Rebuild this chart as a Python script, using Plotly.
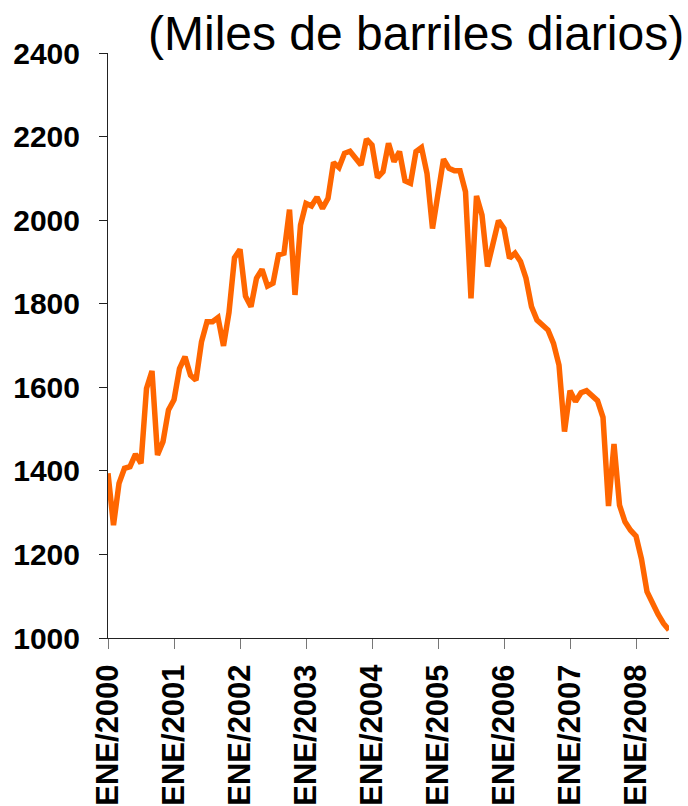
import plotly.graph_objects as go

# Monthly production (thousand barrels per day), Jan 2000 .. Jul 2008
years = list(range(2000, 2009))
month_labels = [f"{y}-{m:02d}" for y in range(2000, 2009) for m in range(1, 13)][:103]

values = [
    1394, 1270, 1370, 1406, 1410, 1440, 1418, 1597, 1639, 1438, 1470, 1546,   # 2000
    1570, 1645, 1673, 1629, 1617, 1709, 1757, 1757, 1767, 1699, 1779, 1910,   # 2001
    1930, 1818, 1793, 1861, 1882, 1842, 1849, 1917, 1921, 2025, 1821, 1988,   # 2002
    2040, 2034, 2055, 2028, 2052, 2138, 2126, 2160, 2165, 2150, 2132, 2194,   # 2003
    2180, 2102, 2116, 2184, 2140, 2164, 2094, 2088, 2164, 2174, 2112, 1980,   # 2004
    2065, 2146, 2124, 2118, 2118, 2068, 1813, 2058, 2012, 1889, 1944, 1999,   # 2005
    1980, 1909, 1921, 1901, 1861, 1793, 1761, 1749, 1737, 1705, 1653, 1494,   # 2006
    1592, 1566, 1587, 1592, 1578, 1568, 1528, 1316, 1464, 1318, 1278, 1258,   # 2007
    1244, 1189, 1111, 1080, 1057, 1035, 1019,                                  # 2008
]

tick_vals = [f"{y}-01" for y in years]
tick_text = [f"ENE/{y}" for y in years]
y_ticks = [1000, 1200, 1400, 1600, 1800, 2000, 2200, 2400]

title_text = "(Miles de barriles diarios)"

FONT = "Arial, 'Liberation Sans', sans-serif"

fig = go.Figure()
fig.add_trace(go.Scatter(
    x=month_labels, y=values, mode="lines",
    line=dict(color="#FF6600", width=5.5),
    hoverinfo="skip", showlegend=False,
))

fig.update_layout(
    width=688, height=806,
    margin=dict(l=108, r=19, t=53, b=168, pad=0, autoexpand=False),
    paper_bgcolor="white", plot_bgcolor="white",
    font=dict(family=FONT, color="black"),
    xaxis=dict(
        type="category", automargin=False,
        categoryorder="array", categoryarray=month_labels,
        range=[0, len(month_labels) - 1],
        tickmode="array", tickvals=tick_vals, ticktext=tick_text,
        tickangle=-90,
        tickfont=dict(family=FONT, size=31, weight="bold", color="black"),
        ticks="outside", ticklen=10, tickwidth=1, tickcolor="#777777",
        ticklabelstandoff=3,
        showline=True, linecolor="#222222", linewidth=1,
        showgrid=False, zeroline=False,
    ),
    yaxis=dict(
        range=[1000, 2400], automargin=False,
        tickmode="array", tickvals=y_ticks,
        tickfont=dict(family=FONT, size=30, weight="bold", color="black"),
        ticks="outside", ticklen=8, tickwidth=1, tickcolor="#222222",
        ticklabelstandoff=13,
        showline=True, linecolor="#222222", linewidth=1,
        showgrid=False, zeroline=False,
    ),
    annotations=[dict(
        text=title_text, xref="paper", yref="paper",
        x=(686 - 108) / 561, y=1 + (53 - 34) / 585,
        xanchor="right", yanchor="middle", showarrow=False,
        font=dict(family=FONT, size=48, color="black"),
    )],
)

fig.write_html(
    "out.html",
    config={"displayModeBar": False},
    post_script="document.body.style.margin='0';document.body.style.padding='0';document.body.style.overflow='hidden';",
)
